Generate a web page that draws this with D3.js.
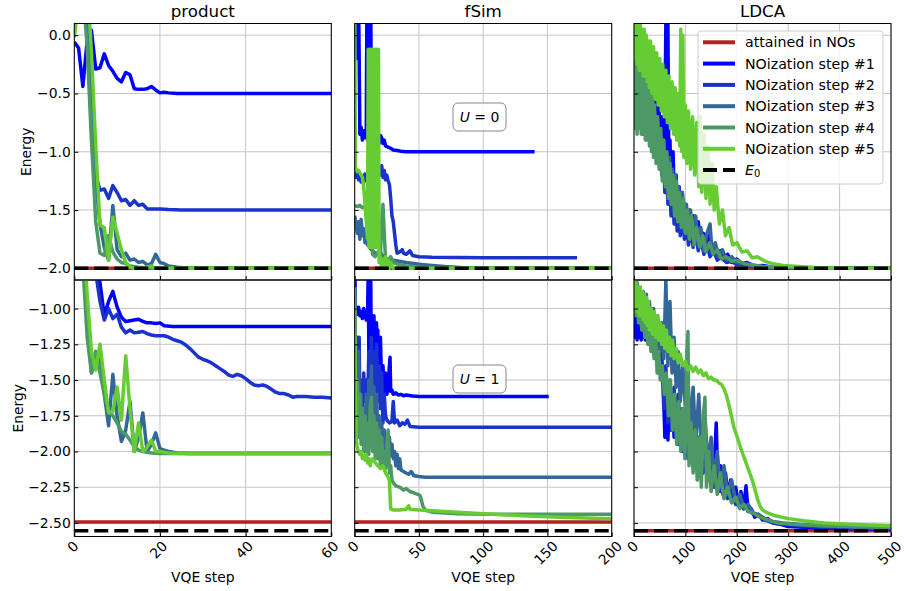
<!DOCTYPE html>
<html><head><meta charset="utf-8">
<script src="https://cdn.jsdelivr.net/npm/d3@7"></script>
<style>body{margin:0;background:#fff}svg{display:block}text{font-family:"DejaVu Sans",sans-serif}</style>
</head><body><svg id="c" width="904" height="591"></svg>
<script>
// ---------------- DATA ----------------
const panelTitles = ["product", "fSim", "LDCA"];
const legendLabels = ["attained in NOs","NOization step #1","NOization step #2","NOization step #3","NOization step #4","NOization step #5"];
const uLabels = ["0", "1"];
const xMaxes = [60, 200, 500];
const xTicksProduct = [0, 20, 40, 60];
const xTicksFSim = [0, 50, 100, 150, 200];
const xTicksLDCA = [0, 100, 200, 300, 400, 500];
const yTicksU0 = [0, -0.5, -1.0, -1.5, -2.0];
const yTicksU1 = [-1.0, -1.25, -1.5, -1.75, -2.0, -2.25, -2.5];
const yDomainU0 = [-2.1, 0.1];
const yDomainU1 = [-2.595, -0.8];
const attainedU0 = [-2.0, -2.0, -2.0];
const attainedU1 = [-2.493, -2.493, -2.555];
const e0U0 = -2.0;
const e0U1 = -2.555;

// product, U=0
const productU0_s1 = [[0,-0.06],[1,-0.11],[2,-0.44],[3,-0.05],[4,0.04],[5,-0.29],[6,-0.28],[7,-0.16],[8,-0.26],[9,-0.31],[10,-0.37],[11,-0.4],[12,-0.32],[13,-0.34],[14,-0.46],[15,-0.465],[16,-0.465],[17,-0.46],[18,-0.44],[19,-0.47],[20,-0.495],[21,-0.49],[22,-0.495],[24,-0.5],[30,-0.5],[40,-0.5],[50,-0.5],[60,-0.5]];
const productU0_s2 = [[0,0.9],[1,0.7],[2,0.5],[3,0.1],[4,-0.7],[5,-1.2],[6,-1.33],[7,-1.32],[8,-1.4],[9,-1.29],[10,-1.35],[11,-1.42],[12,-1.41],[13,-1.46],[14,-1.42],[15,-1.46],[16,-1.45],[17,-1.49],[18,-1.49],[20,-1.49],[22,-1.495],[25,-1.5],[40,-1.5],[60,-1.5]];
const productU0_s3 = [[0,1.0],[1,0.8],[2,0.6],[3,0.2],[4,-0.5],[5,-1.25],[6,-1.62],[7,-1.82],[8,-1.93],[9,-1.46],[10,-1.84],[11,-1.9],[12,-1.87],[13,-1.93],[14,-1.92],[15,-1.95],[16,-1.94],[17,-1.97],[18,-1.96],[19,-1.88],[20,-1.95],[21,-1.96],[22,-1.98],[24,-1.99],[27,-2.0],[60,-2.0]];
const productU0_s4 = [[0,0.8],[1,0.6],[2,0.4],[3,-0.1],[4,-0.9],[5,-1.6],[6,-1.87],[7,-1.89],[8,-1.72],[9,-1.86],[10,-1.92],[11,-1.95],[12,-1.96],[13,-1.98],[15,-1.99],[18,-2.0],[60,-2.0]];
const productU0_s5 = [[0,-0.02],[1,0.3],[2,0.6],[3,0.5],[4,-0.15],[5,-0.95],[6,-1.63],[7,-1.65],[8,-1.93],[9,-1.56],[10,-1.7],[11,-1.84],[12,-1.95],[13,-1.99],[14,-2.0],[16,-2.0],[18,-1.98],[19,-2.0],[60,-2.0]];

// product, U=1
const productU1_s1 = [[0,0.5],[3,0.0],[5,-0.6],[6,-0.82],[7,-1.05],[8,-0.95],[9,-0.88],[10,-0.99],[11,-1.06],[12,-1.09],[13,-1.085],[14,-1.08],[15,-1.075],[16,-1.09],[17,-1.1],[18,-1.1],[19,-1.105],[20,-1.1],[21,-1.12],[23,-1.125],[40,-1.125],[60,-1.125]];
const productU1_s2 = [[0,0.5],[3,0.0],[5,-0.75],[6,-0.95],[7,-1.08],[8,-1.0],[9,-1.07],[10,-1.04],[11,-1.13],[12,-1.17],[13,-1.15],[14,-1.17],[15,-1.165],[16,-1.16],[17,-1.175],[18,-1.185],[19,-1.19],[20,-1.19],[21,-1.19],[22,-1.2],[23,-1.215],[24,-1.225],[25,-1.235],[26,-1.255],[27,-1.28],[28,-1.31],[29,-1.34],[30,-1.355],[31,-1.365],[32,-1.38],[33,-1.4],[34,-1.42],[35,-1.44],[36,-1.465],[37,-1.475],[38,-1.46],[39,-1.47],[40,-1.49],[41,-1.515],[42,-1.535],[43,-1.54],[44,-1.535],[45,-1.545],[46,-1.565],[47,-1.585],[48,-1.595],[49,-1.595],[50,-1.605],[51,-1.62],[52,-1.615],[54,-1.615],[56,-1.62],[58,-1.62],[60,-1.625]];
const productU1_s3 = [[0,0.6],[1,0.1],[2,-0.5],[3,-1.1],[4,-1.45],[5,-1.3],[6,-1.35],[7,-1.6],[8,-1.82],[9,-1.46],[10,-1.75],[11,-1.93],[12,-1.85],[13,-1.65],[14,-2.0],[15,-1.9],[16,-1.73],[17,-2.0],[18,-1.95],[19,-1.87],[20,-1.98],[21,-1.99],[22,-2.0],[24,-2.01],[27,-2.015],[60,-2.015]];
const productU1_s4 = [[0,0.6],[1,0.0],[2,-0.7],[3,-1.2],[4,-1.45],[5,-1.3],[6,-1.45],[7,-1.6],[8,-1.72],[9,-1.75],[10,-1.8],[11,-1.86],[12,-1.88],[13,-1.92],[14,-1.97],[15,-1.99],[16,-2.0],[18,-2.01],[20,-2.015],[60,-2.015]];
const productU1_s5 = [[0,0.6],[1,0.1],[2,-0.4],[3,-0.9],[4,-1.3],[5,-1.43],[6,-1.25],[7,-1.5],[8,-1.73],[9,-1.72],[10,-1.55],[11,-1.78],[12,-1.33],[13,-1.7],[14,-2.0],[15,-1.8],[16,-2.0],[17,-1.97],[18,-1.92],[19,-2.0],[20,-2.0],[22,-2.01],[25,-2.015],[60,-2.015]];

// fSim, U=0
const fsimU0_s1 = [[0,0.3],[0.5,-0.2],[1,0.3],[1.5,-0.2],[2,0.3],[2.5,-0.15],[3,0.3],[3.5,-0.2],[4,-0.85],[5,-0.79],[6,-0.9],[7,-0.82],[8,-0.88],[9,-0.86],[9.5,0.3],[10,-0.9],[10.5,0.3],[11,-0.88],[11.5,0.3],[12,-0.9],[12.5,0.3],[13,-0.88],[14,-0.9],[15,-0.86],[16,-0.92],[17,-0.9],[18,-0.84],[19,-0.93],[20,-0.86],[21,-0.88],[22,-0.93],[23,-0.9],[24,-0.95],[26,-0.96],[28,-0.97],[30,-0.985],[33,-0.99],[36,-0.995],[40,-1.0],[60,-1.0],[100,-1.0],[140,-1.0]];
const fsimU0_s2 = [[0,-1.18],[1,-1.22],[2,-1.16],[3,-1.24],[4,-1.2],[5,-1.26],[6,-1.21],[7,-1.25],[8,-1.19],[9,-1.24],[10,-1.27],[12,-1.3],[14,-1.28],[16,-1.27],[18,-1.25],[19,-1.13],[20,-1.2],[21,-1.12],[22,-1.22],[23,-1.16],[24,-1.24],[25,-1.2],[26,-1.25],[27,-1.28],[28,-1.4],[29,-1.55],[30,-1.6],[31,-1.7],[32,-1.8],[33,-1.87],[35,-1.86],[37,-1.84],[38,-1.87],[40,-1.88],[43,-1.85],[45,-1.89],[50,-1.9],[60,-1.905],[100,-1.91],[173,-1.91]];
const fsimU0_s3 = [[0,-1.55],[1,-1.62],[2,-1.7],[3,-1.6],[4,-1.75],[5,-1.58],[6,-1.72],[7,-1.66],[8,-1.78],[9,-1.7],[10,-1.8],[11,-1.76],[12,-1.83],[14,-1.85],[16,-1.87],[18,-1.88],[20,-1.86],[22,-1.9],[25,-1.92],[30,-1.93],[40,-1.95],[50,-1.965],[60,-1.975],[70,-1.985],[85,-1.995],[100,-2.0],[200,-2.0]];
const fsimU0_s4 = [[0,-1.46],[2,-1.47],[4,-1.46],[6,-1.48],[8,-1.47],[10,-1.48],[12,-1.5],[13,-1.7],[14,-1.88],[16,-1.9],[18,-1.86],[20,-1.9],[21,-1.6],[22,-1.45],[23,-1.7],[24,-1.92],[26,-1.94],[28,-1.9],[30,-1.95],[35,-1.97],[40,-1.98],[50,-1.99],[70,-2.0],[200,-2.0]];
const fsimU0_s5 = [[0,0.3],[0.5,-1.14],[1,-1.15],[2,-1.17],[3,-1.16],[4,-1.18],[5,-1.2],[6,-1.22],[7,-1.3],[8,-1.45],[9,-1.6],[10,-1.75],[10.5,-0.12],[11,-1.82],[11.5,-0.12],[12,-1.82],[12.5,-0.12],[13,-1.82],[13.5,-0.12],[14,-1.82],[14.5,-0.12],[15,-1.82],[15.5,-0.12],[16,-1.82],[16.5,-0.12],[17,-1.82],[17.5,-0.12],[18,-1.82],[18.5,-0.12],[19,-1.95],[20,-1.9],[21,-2.0],[22,-1.92],[23,-1.99],[24,-1.9],[25,-2.0],[26,-1.93],[27,-2.0],[28,-1.95],[30,-2.0],[200,-2.0]];

// fSim, U=1
const fsimU1_s1 = [[0,-0.6],[0.5,-1.0],[1,-1.0],[2,-1.04],[3,-0.99],[4,-1.05],[5,-1.02],[6,-1.07],[7,-1.0],[8,-1.04],[9,-1.08],[10,-1.05],[10.5,-0.75],[11,-1.3],[11.5,-0.75],[12,-1.35],[12.5,-0.8],[13,-1.5],[14,-1.05],[14.5,-1.6],[15,-1.05],[15.5,-1.58],[16,-1.1],[16.5,-1.6],[17,-1.1],[17.5,-1.6],[18,-1.15],[18.5,-1.58],[19,-1.2],[19.5,-1.6],[20,-1.2],[21,-1.55],[22,-1.4],[23,-1.58],[24,-1.45],[25,-1.6],[26,-1.55],[27,-1.4],[27.5,-1.34],[28,-1.58],[29,-1.57],[30,-1.6],[32,-1.59],[34,-1.605],[36,-1.6],[38,-1.61],[40,-1.605],[45,-1.612],[50,-1.615],[151,-1.615]];
const fsimU1_s2 = [[0,-0.9],[0.5,-1.2],[1,-1.9],[1.5,-1.2],[2,-1.9],[2.5,-1.2],[3,-1.85],[3.5,-1.2],[4,-1.8],[5,-1.5],[6,-1.7],[7,-1.45],[8,-1.65],[9,-1.5],[10,-1.7],[11,-1.3],[12,-1.75],[13,-1.2],[14,-1.7],[15,-1.3],[16,-1.72],[17,-1.25],[18,-1.65],[19,-1.4],[20,-1.7],[21,-1.45],[22,-1.8],[23,-1.6],[24,-1.75],[25,-1.78],[27,-1.8],[29,-1.79],[30,-1.65],[31,-1.8],[33,-1.78],[35,-1.82],[37,-1.8],[39,-1.81],[41,-1.78],[43,-1.825],[50,-1.83],[200,-1.83]];
const fsimU1_s3 = [[0,-1.0],[0.5,-1.9],[1,-1.25],[2,-1.85],[3,-1.3],[4,-1.9],[5,-1.6],[6,-1.95],[7,-1.7],[8,-1.98],[9,-1.6],[10,-1.95],[11,-1.5],[12,-1.9],[13,-1.4],[14,-1.85],[15,-1.55],[16,-1.95],[17,-1.6],[18,-1.9],[19,-1.75],[20,-2.0],[21,-1.8],[22,-2.0],[23,-1.85],[24,-2.02],[25,-1.88],[26,-2.0],[27,-1.9],[28,-2.03],[29,-1.95],[30,-2.05],[31,-2.0],[32,-2.1],[33,-2.02],[34,-2.12],[35,-2.05],[36,-2.13],[38,-2.14],[40,-2.15],[42,-2.16],[44,-2.14],[46,-2.17],[50,-2.175],[55,-2.18],[200,-2.18]];
const fsimU1_s4 = [[0,-1.2],[1,-1.85],[2,-1.5],[3,-1.9],[4,-1.6],[5,-1.95],[6,-1.7],[7,-2.0],[8,-1.75],[9,-2.05],[10,-1.8],[11,-2.02],[12,-1.7],[13,-1.62],[14,-2.0],[15,-1.75],[16,-2.05],[17,-1.8],[18,-2.05],[19,-1.85],[20,-2.1],[21,-1.9],[22,-2.08],[23,-2.0],[24,-2.12],[25,-1.95],[26,-1.85],[27,-2.15],[28,-2.1],[29,-2.2],[30,-2.22],[32,-2.24],[35,-2.25],[38,-2.27],[40,-2.26],[43,-2.28],[46,-2.29],[49,-2.3],[51,-2.31],[53,-2.38],[55,-2.41],[60,-2.425],[70,-2.43],[80,-2.435],[100,-2.44],[200,-2.44]];
const fsimU1_s5 = [[0,-0.85],[0.5,-1.6],[1,-1.9],[2,-1.97],[3,-2.0],[4,-2.02],[5,-2.0],[6,-2.05],[7,-2.03],[8,-2.06],[9,-2.02],[10,-2.08],[11,-2.05],[12,-2.1],[13,-2.06],[14,-2.05],[16,-2.08],[18,-2.1],[20,-2.12],[22,-2.1],[24,-2.15],[26,-2.18],[27,-2.2],[28,-2.4],[30,-2.41],[35,-2.41],[40,-2.405],[42,-2.38],[43,-2.405],[50,-2.41],[60,-2.415],[80,-2.425],[100,-2.435],[130,-2.45],[160,-2.46],[200,-2.47]];

// LDCA, U=0
const ldcaU0_s1 = [[0,0.05],[3,-0.2],[6,0.1],[9,-0.35],[12,-0.5],[15,-0.1],[18,-0.45],[21,0.0],[24,-0.3],[27,-0.55],[30,-0.2],[33,-0.6],[36,-0.35],[39,-0.7],[42,-0.45],[45,-0.85],[48,-0.5],[51,-0.9],[54,-0.7],[57,-1.0],[60,-0.75],[62,0.1],[64,-1.1],[66,0.1],[68,-1.3],[70,-0.9],[73,-1.45],[76,-1.0],[79,-1.5],[82,-1.2],[85,-1.6],[88,-1.3],[91,-1.62],[94,-1.35],[97,-1.7],[100,-1.45],[104,-1.72],[108,-1.5],[112,-1.75],[116,-1.55],[120,-1.78],[125,-1.6],[130,-1.82],[135,-1.7],[140,-1.85],[145,-1.72],[150,-1.88],[156,-1.8],[162,-1.9],[168,-1.85],[175,-1.93],[182,-1.88],[190,-1.95],[200,-1.92],[210,-1.96],[220,-1.95],[235,-1.98],[250,-1.975],[270,-1.99],[300,-1.995],[350,-2.0],[500,-2.0]];
const ldcaU0_s2 = [[0,-0.1],[3,0.1],[6,-0.3],[9,-0.05],[12,-0.4],[15,-0.15],[18,-0.55],[21,-0.25],[24,-0.6],[27,-0.35],[30,-0.75],[33,-0.45],[36,-0.85],[39,-0.6],[42,-0.95],[45,-0.7],[48,-1.05],[51,-0.85],[54,-1.2],[57,-0.95],[60,-1.35],[63,-1.05],[66,-1.45],[69,-1.2],[72,-1.55],[75,-1.3],[78,-1.62],[81,-1.4],[84,-1.68],[87,-1.45],[90,-1.72],[94,-1.5],[98,-1.75],[102,-1.6],[106,-1.8],[110,-1.65],[115,-1.82],[120,-1.7],[125,-1.85],[130,-1.75],[136,-1.88],[142,-1.8],[148,-1.9],[155,-1.85],[162,-1.93],[170,-1.9],[180,-1.95],[190,-1.94],[200,-1.97],[215,-1.97],[230,-1.985],[250,-1.99],[280,-1.995],[320,-2.0],[500,-2.0]];
const ldcaU0_s3 = [[0,-0.2],[3,0.05],[6,-0.45],[9,-0.1],[12,-0.55],[15,-0.2],[18,-0.65],[21,-0.3],[24,-0.75],[27,-0.4],[30,-0.8],[33,-0.5],[36,-0.9],[39,-0.6],[42,-1.0],[45,-0.7],[48,-1.1],[51,-0.8],[54,-1.15],[57,-0.9],[60,-1.25],[63,-1.0],[66,-1.35],[69,-1.05],[72,-1.45],[75,-1.15],[78,-1.5],[81,-1.2],[84,-1.55],[87,-1.3],[90,-1.6],[94,-1.35],[98,-1.68],[102,-1.45],[106,-1.72],[110,-1.5],[115,-1.75],[120,-1.55],[125,-1.8],[130,-1.65],[136,-1.85],[142,-1.7],[148,-1.62],[152,-1.86],[158,-1.78],[165,-1.9],[172,-1.84],[180,-1.93],[190,-1.9],[200,-1.95],[215,-1.96],[230,-1.975],[250,-1.985],[280,-1.99],[320,-1.995],[380,-2.0],[500,-2.0]];
const ldcaU0_s4 = [[0,-0.1],[2,-0.8],[4,-0.15],[6,-0.85],[8,-0.2],[10,-0.8],[12,-0.25],[14,-0.85],[16,-0.3],[18,-0.85],[20,-0.3],[22,-0.9],[24,-0.35],[26,-0.9],[28,-0.4],[30,-0.95],[32,-0.45],[34,-1.0],[36,-0.5],[38,-1.05],[40,-0.6],[43,-1.1],[46,-0.7],[49,-1.15],[52,-0.8],[55,-1.25],[58,-0.9],[61,-1.3],[64,-1.0],[67,-1.4],[70,-1.1],[73,-1.45],[76,-1.2],[79,-1.55],[82,-1.25],[85,-1.6],[88,-1.35],[92,-1.65],[96,-1.4],[100,-1.7],[104,-1.5],[108,-1.75],[112,-1.55],[117,-1.8],[122,-1.65],[128,-1.82],[134,-1.72],[140,-1.86],[147,-1.78],[154,-1.88],[162,-1.84],[170,-1.92],[180,-1.9],[190,-1.94],[200,-1.93],[215,-1.96],[230,-1.97],[250,-1.985],[280,-1.99],[330,-1.995],[400,-2.0],[500,-2.0]];
const ldcaU0_s5 = [[0,0.1],[2,-0.2],[4,0.1],[6,-0.25],[8,0.1],[10,-0.3],[12,0.1],[14,-0.3],[16,0.05],[18,-0.35],[20,0.05],[22,-0.35],[24,0.0],[26,-0.4],[28,-0.05],[30,-0.45],[32,-0.05],[35,-0.5],[38,-0.1],[41,-0.55],[44,-0.15],[47,-0.6],[50,-0.2],[53,-0.65],[56,-0.25],[59,-0.7],[62,-0.3],[65,-0.75],[68,-0.35],[71,-0.8],[74,-0.4],[77,-0.85],[80,-0.45],[83,-0.9],[86,-0.5],[89,-0.95],[91,0.05],[93,-1.0],[95,0.0],[97,-1.05],[100,-0.6],[103,-1.1],[106,-0.65],[110,-1.15],[114,-0.7],[118,-1.2],[122,-0.75],[126,-1.3],[129,-0.7],[132,-1.35],[136,-0.85],[140,-1.4],[144,-0.95],[148,-1.45],[152,-1.1],[156,-1.5],[160,-1.3],[166,-1.62],[172,-1.5],[178,-1.72],[185,-1.65],[192,-1.8],[200,-1.78],[210,-1.86],[220,-1.85],[230,-1.91],[240,-1.9],[255,-1.94],[270,-1.96],[290,-1.975],[320,-1.985],[360,-1.995],[420,-2.0],[500,-2.0]];

// LDCA, U=1
const ldcaU1_s1 = [[0,-0.85],[2,-1.2],[4,-0.9],[6,-1.22],[8,-0.95],[10,-1.2],[12,-0.9],[14,-1.22],[16,-0.95],[18,-1.2],[20,-0.9],[22,-1.22],[24,-0.95],[26,-1.2],[28,-0.95],[30,-1.22],[33,-1.1],[36,-1.25],[40,-1.2],[44,-1.35],[48,-1.3],[52,-1.45],[56,-1.4],[60,-1.9],[63,-1.5],[66,-1.92],[69,-1.55],[72,-1.85],[75,-1.6],[78,-1.9],[82,-1.65],[86,-1.95],[90,-1.7],[95,-2.0],[100,-1.75],[105,-2.05],[110,-1.8],[115,-2.05],[120,-1.85],[125,-2.1],[130,-1.9],[135,-2.15],[140,-2.0],[145,-2.2],[150,-2.05],[155,-2.2],[160,-1.8],[163,-2.25],[168,-2.1],[173,-2.3],[178,-2.15],[183,-2.32],[188,-2.2],[193,-2.35],[198,-2.25],[203,-2.38],[208,-2.28],[213,-2.4],[218,-2.24],[222,-2.42],[228,-2.4],[235,-2.46],[242,-2.44],[250,-2.48],[260,-2.47],[270,-2.5],[285,-2.51],[300,-2.525],[330,-2.53],[370,-2.535],[420,-2.54],[500,-2.545]];
const ldcaU1_s2 = [[0,-0.8],[3,-1.0],[6,-0.85],[9,-1.05],[12,-0.9],[15,-1.1],[18,-0.9],[21,-1.15],[24,-0.95],[27,-1.2],[30,-1.0],[34,-1.25],[38,-1.1],[42,-1.35],[46,-1.2],[50,-1.45],[54,-1.3],[58,-1.7],[62,-1.4],[66,-1.8],[70,-1.5],[74,-1.85],[78,-1.55],[82,-1.9],[86,-1.6],[90,-1.95],[95,-1.7],[100,-2.0],[105,-1.75],[110,-2.05],[115,-1.8],[120,-2.1],[126,-1.9],[132,-2.15],[138,-2.0],[144,-2.2],[150,-2.05],[156,-2.25],[162,-2.1],[168,-2.28],[175,-2.2],[182,-2.33],[190,-2.28],[198,-2.37],[206,-2.33],[214,-2.4],[222,-2.38],[232,-2.44],[242,-2.45],[255,-2.48],[270,-2.5],[290,-2.51],[320,-2.52],[370,-2.53],[430,-2.535],[500,-2.54]];
const ldcaU1_s3 = [[0,-0.8],[3,-0.95],[6,-0.82],[9,-1.0],[12,-0.85],[15,-1.05],[18,-0.88],[21,-1.1],[24,-0.9],[27,-1.15],[30,-0.95],[34,-1.2],[38,-1.0],[42,-1.25],[46,-1.05],[50,-1.3],[54,-1.1],[58,-1.35],[62,-0.8],[66,-1.4],[70,-0.95],[74,-1.45],[78,-1.2],[82,-1.55],[86,-1.3],[90,-1.65],[95,-1.4],[100,-1.7],[105,-1.5],[110,-1.85],[115,-1.55],[120,-1.95],[126,-1.6],[132,-2.05],[138,-1.75],[144,-2.1],[150,-1.9],[156,-2.2],[162,-2.0],[168,-2.25],[175,-2.1],[182,-2.3],[190,-2.2],[198,-2.35],[206,-2.3],[214,-2.4],[222,-2.37],[232,-2.43],[242,-2.44],[255,-2.47],[270,-2.49],[290,-2.5],[320,-2.51],[370,-2.52],[430,-2.53],[500,-2.535]];
const ldcaU1_s4 = [[0,-0.85],[3,-1.05],[6,-0.9],[9,-1.1],[12,-0.95],[15,-1.15],[18,-1.0],[21,-1.2],[24,-1.05],[27,-1.25],[30,-1.1],[33,-1.3],[36,-1.15],[39,-1.35],[42,-1.2],[45,-1.45],[48,-1.3],[51,-1.5],[55,-1.4],[59,-1.6],[63,-1.45],[67,-1.75],[71,-1.5],[75,-1.85],[79,-1.6],[83,-1.95],[87,-1.65],[91,-2.0],[95,-1.7],[99,-2.05],[103,-1.3],[105,-1.16],[107,-2.1],[111,-1.8],[115,-2.15],[119,-1.85],[123,-2.2],[127,-1.9],[131,-2.25],[135,-1.75],[138,-1.62],[141,-2.25],[145,-2.0],[150,-2.28],[156,-2.1],[162,-2.3],[168,-2.15],[175,-2.33],[182,-2.25],[190,-2.36],[198,-2.32],[206,-2.4],[214,-2.37],[222,-2.42],[232,-2.43],[245,-2.46],[260,-2.48],[280,-2.5],[310,-2.51],[360,-2.52],[430,-2.525],[500,-2.53]];
const ldcaU1_s5 = [[0,-0.8],[2,-1.0],[4,-0.82],[6,-1.02],[8,-0.85],[10,-1.05],[12,-0.85],[14,-1.05],[16,-0.88],[18,-1.08],[20,-0.9],[22,-1.1],[24,-0.92],[26,-1.12],[28,-0.95],[30,-1.15],[33,-1.0],[36,-1.18],[39,-1.02],[42,-1.2],[45,-1.05],[48,-1.22],[51,-1.1],[54,-1.25],[57,-1.12],[60,-1.28],[63,-1.15],[66,-1.3],[69,-1.2],[72,-1.33],[75,-1.22],[78,-1.35],[82,-1.28],[86,-1.38],[90,-1.32],[95,-1.4],[100,-1.37],[105,-1.43],[110,-1.4],[115,-1.44],[120,-1.41],[125,-1.45],[130,-1.43],[135,-1.47],[140,-1.45],[145,-1.49],[150,-1.48],[155,-1.5],[160,-1.5],[165,-1.52],[170,-1.53],[175,-1.56],[180,-1.61],[185,-1.68],[190,-1.76],[195,-1.84],[200,-1.89],[205,-1.95],[210,-2.0],[215,-2.05],[220,-2.1],[225,-2.15],[230,-2.2],[235,-2.26],[240,-2.33],[245,-2.38],[250,-2.41],[260,-2.43],[275,-2.45],[300,-2.47],[330,-2.485],[370,-2.5],[420,-2.51],[500,-2.52]];

// ---------------- STYLE / LAYOUT ----------------
const stepColors = ["#0000ff", "#1a33cc", "#336699", "#4d9966", "#66cc33"];
const redColor = "#b22222";
const colX = [74.3, 354.7, 634];
const rowY = [23.5, 280];
const pw = 257, ph = 256.5;
const FS = 13.9;

const seriesTable = [
  [[productU0_s1,productU0_s2,productU0_s3,productU0_s4,productU0_s5],
   [fsimU0_s1,fsimU0_s2,fsimU0_s3,fsimU0_s4,fsimU0_s5],
   [ldcaU0_s1,ldcaU0_s2,ldcaU0_s3,ldcaU0_s4,ldcaU0_s5]],
  [[productU1_s1,productU1_s2,productU1_s3,productU1_s4,productU1_s5],
   [fsimU1_s1,fsimU1_s2,fsimU1_s3,fsimU1_s4,fsimU1_s5],
   [ldcaU1_s1,ldcaU1_s2,ldcaU1_s3,ldcaU1_s4,ldcaU1_s5]]
];
const xTickSets = [xTicksProduct, xTicksFSim, xTicksLDCA];
const yTickSets = [yTicksU0, yTicksU1];
const yDomains = [yDomainU0, yDomainU1];
const attained = [attainedU0, attainedU1];
const e0s = [e0U0, e0U1];
const yFormats = [d3.format(".1f"), d3.format(".2f")];

const svg = d3.select("#c");
svg.append("rect").attr("width", 904).attr("height", 591).attr("fill", "#fff");
const defs = svg.append("defs");

for (let r = 0; r < 2; r++) {
  for (let c = 0; c < 3; c++) {
    const g = svg.append("g").attr("transform", `translate(${colX[c]},${rowY[r]})`);
    const x = d3.scaleLinear().domain([0, xMaxes[c]]).range([0, pw]);
    const y = d3.scaleLinear().domain(yDomains[r]).range([ph, 0]);
    const cid = `clip${r}${c}`;
    defs.append("clipPath").attr("id", cid).append("rect").attr("width", pw).attr("height", ph);

    // grid
    const grid = g.append("g").attr("stroke", "#c4c4c4").attr("stroke-width", 1);
    xTickSets[c].forEach(t => grid.append("line").attr("x1", x(t)).attr("x2", x(t)).attr("y1", 0).attr("y2", ph));
    yTickSets[r].forEach(t => grid.append("line").attr("x1", 0).attr("x2", pw).attr("y1", y(t)).attr("y2", y(t)));

    const plot = g.append("g").attr("clip-path", `url(#${cid})`);
    const line = d3.line().x(d => x(d[0])).y(d => y(d[1]));
    plot.append("path").datum([[0, attained[r][c]], [xMaxes[c], attained[r][c]]])
      .attr("d", line).attr("fill", "none").attr("stroke", redColor).attr("stroke-width", 3.5);
    seriesTable[r][c].forEach((s, i) => {
      plot.append("path").datum(s).attr("d", line).attr("fill", "none")
        .attr("stroke", stepColors[i]).attr("stroke-width", 3.5)
        .attr("stroke-linejoin", "round");
    });
    plot.append("path").datum([[0, e0s[r]], [xMaxes[c], e0s[r]]])
      .attr("d", line).attr("fill", "none").attr("stroke", "#000").attr("stroke-width", 3.5)
      .attr("stroke-dasharray", "14,6");

    const ya = d3.axisLeft(y).tickValues(yTickSets[r]).tickSize(-4).tickPadding(3.5)
      .tickFormat(c === 0 ? yFormats[r] : () => "");
    const yg = g.append("g").call(ya);
    yg.select(".domain").remove();
    yg.attr("font-size", FS).attr("font-family", '"DejaVu Sans",sans-serif');
    yg.selectAll(".tick line").attr("stroke", "#000").attr("stroke-width", 1);

    const xa = d3.axisBottom(x).tickValues(xTickSets[c]).tickSize(-4).tickPadding(3.5)
      .tickFormat(r === 1 ? d => String(d) : () => "");
    const xg = g.append("g").attr("transform", `translate(0,${ph})`).call(xa);
    xg.select(".domain").remove();
    xg.attr("font-size", FS).attr("font-family", '"DejaVu Sans",sans-serif');
    xg.selectAll(".tick line").attr("stroke", "#000").attr("stroke-width", 1);
    if (r === 1) {
      xg.selectAll(".tick text").each(function () {
        const w = this.getComputedTextLength();
        const off = (w + 10) / (2 * Math.SQRT2);
        d3.select(this).attr("y", 0).attr("dy", null).attr("x", 0)
          .attr("text-anchor", "middle").attr("dominant-baseline", "central")
          .attr("transform", `translate(-2,${3.5 + off}) rotate(-45)`);
      });
      g.append("text").attr("x", pw / 2).attr("y", ph + 45.5).attr("text-anchor", "middle")
        .attr("font-size", FS).text("VQE step");
    }

    g.append("rect").attr("width", pw).attr("height", ph).attr("fill", "none")
      .attr("stroke", "#000").attr("stroke-width", 1);

    if (r === 0) {
      g.append("text").attr("x", pw / 2).attr("y", -6.5).attr("text-anchor", "middle")
        .attr("font-size", 16.7).text(panelTitles[c]);
    }
    if (c === 0) {
      const lx = r === 0 ? 26 - colX[0] : 17.5 - colX[0];
      g.append("text").attr("transform", `translate(${lx},${ph / 2}) rotate(-90)`)
        .attr("text-anchor", "middle").attr("dominant-baseline", "central")
        .attr("font-size", FS).text("Energy");
    }
    if (c === 1) {
      const cy = r === 0 ? 117 - rowY[0] : 379 - rowY[1];
      const cx = 479.5 - colX[1];
      g.append("rect").attr("x", cx - 26.5).attr("y", cy - 14).attr("width", 53).attr("height", 28)
        .attr("rx", 5).attr("fill", "#fff").attr("fill-opacity", 0.8)
        .attr("stroke", "#888").attr("stroke-width", 1);
      const t = g.append("text").attr("x", cx).attr("y", cy).attr("text-anchor", "middle")
        .attr("dominant-baseline", "central").attr("font-size", FS);
      t.append("tspan").attr("font-style", "italic").text("U");
      t.append("tspan").text(" = " + uLabels[r]);
    }
  }
}

// legend
const lg = svg.append("g");
lg.append("rect").attr("x", 698).attr("y", 31).attr("width", 185).attr("height", 153).attr("rx", 3)
  .attr("fill", "#fff").attr("fill-opacity", 0.8).attr("stroke", "#cccccc").attr("stroke-width", 1);
const legColors = [redColor].concat(stepColors);
legendLabels.forEach((lab, i) => {
  const yy = 42.3 + 21.3 * i;
  lg.append("line").attr("x1", 703).attr("x2", 735).attr("y1", yy).attr("y2", yy)
    .attr("stroke", legColors[i]).attr("stroke-width", 4);
  lg.append("text").attr("x", 745).attr("y", yy).attr("dominant-baseline", "central")
    .attr("font-size", 14.2).text(lab);
});
{
  const yy = 42.3 + 21.3 * 6;
  lg.append("line").attr("x1", 703).attr("x2", 735).attr("y1", yy).attr("y2", yy)
    .attr("stroke", "#000").attr("stroke-width", 4).attr("stroke-dasharray", "14,6");
  const t = lg.append("text").attr("x", 745).attr("y", yy).attr("dominant-baseline", "central").attr("font-size", 14.2);
  t.append("tspan").attr("font-style", "italic").text("E");
  t.append("tspan").attr("font-size", 10).attr("dy", 3).text("0");
}
</script></body></html>
